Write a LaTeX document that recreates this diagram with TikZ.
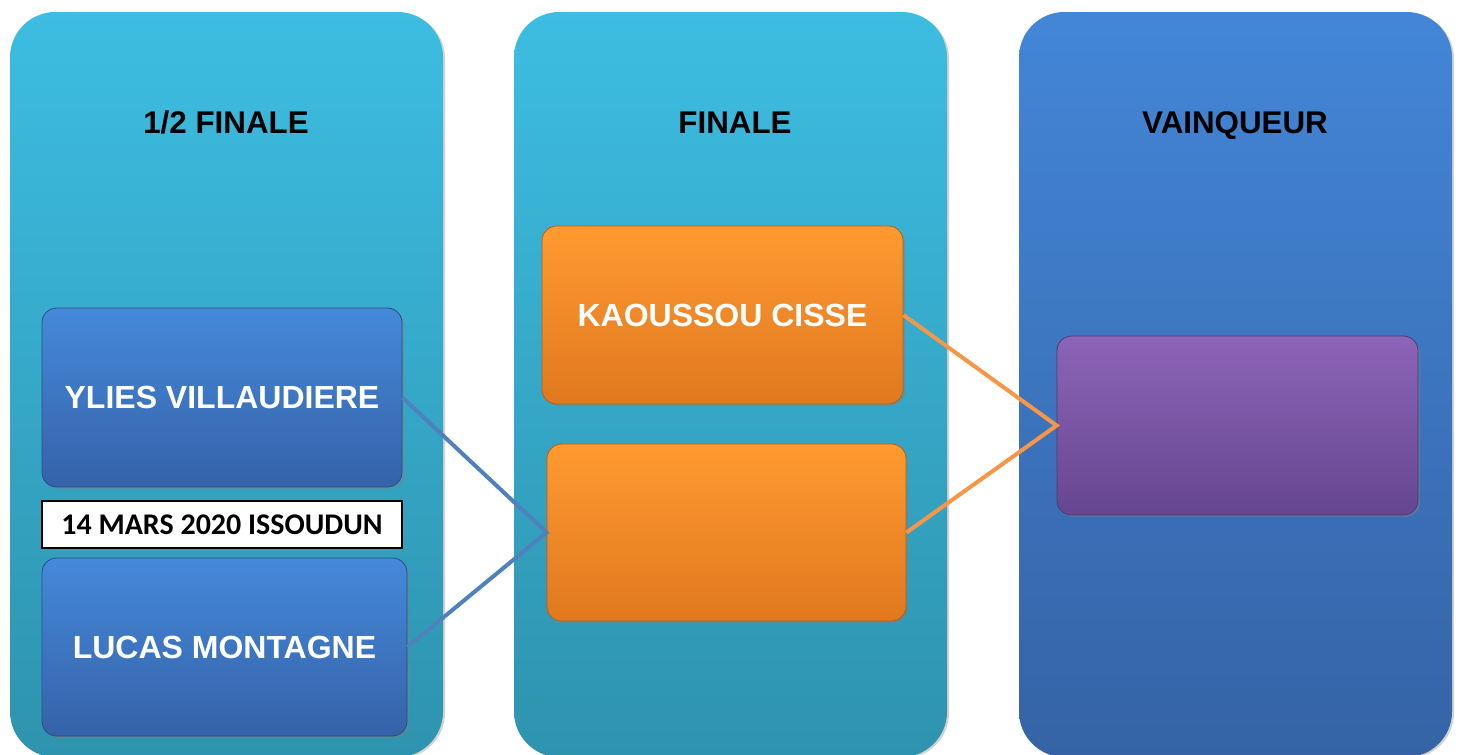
\documentclass[tikz,border=0pt]{standalone}
\usepackage{fontspec}
\setmainfont{Liberation Sans}
\newfontfamily\datefont{Carlito}
\usetikzlibrary{shadows}
\definecolor{colTop}{HTML}{3DBDE2}
\definecolor{colBot}{HTML}{2E93AE}
\definecolor{winTop}{HTML}{4386D7}
\definecolor{winBot}{HTML}{3563A6}
\definecolor{bluTop}{HTML}{4589DA}
\definecolor{bluBot}{HTML}{3562A8}
\definecolor{orTop}{HTML}{FF9A30}
\definecolor{orBot}{HTML}{E0781F}
\definecolor{puTop}{HTML}{8C64B8}
\definecolor{puBot}{HTML}{664690}
\definecolor{lineBlue}{HTML}{4F81BD}
\definecolor{lineOrange}{HTML}{F79646}
\tikzset{
  column/.style={rounded corners=34pt, minimum width=324.75pt, minimum height=558.75pt, inner sep=0pt,
    drop shadow={shadow xshift=1.5pt, shadow yshift=-1pt, opacity=0.35}},
  roundbox/.style={rounded corners=11pt, inner sep=0pt, text=white, font=\bfseries\fontsize{24}{28}\selectfont,
    drop shadow={shadow xshift=1.5pt, shadow yshift=-1.5pt, opacity=0.45}},
  bluebox/.style={roundbox, top color=bluTop, bottom color=bluBot, draw=bluBot!80!black, line width=0.6pt},
  orangebox/.style={roundbox, top color=orTop, bottom color=orBot, draw=orBot!80!black, line width=0.6pt},
  purplebox/.style={roundbox, top color=puTop, bottom color=puBot, draw=puBot!80!black, line width=0.6pt},
  title/.style={font=\bfseries\fontsize{23.5}{28}\selectfont, text=black, anchor=base, inner sep=0pt},
  datebox/.style={draw=black, line width=0.8pt, fill=white, inner sep=0pt, font=\datefont\bfseries\fontsize{22.5}{26}\selectfont},
  link/.style={line width=3pt}
}
\begin{document}
\begin{tikzpicture}[x=0.75pt, y=-0.75pt]
\useasboundingbox (0,0) rectangle (1459,754);
\clip (0,0) rectangle (1459,754);
\fill[white] (0,0) rectangle (1459,754);
% columns
\node[column, top color=colTop, bottom color=colBot] (c1) at (226.5,384.5) {};
\node[column, top color=colTop, bottom color=colBot] (c2) at (730.5,384.5) {};
\node[column, top color=winTop, bottom color=winBot] (c3) at (1235.5,384.5) {};
% titles
\node[title] (t1) at (226,133) {1/2 FINALE};
\node[title] (t2) at (735,133) {FINALE};
\node[title] (t3) at (1235,133) {VAINQUEUR};
% boxes
\node[bluebox, minimum width=270pt, minimum height=134.25pt] (ylies) at (222,397.5) {YLIES VILLAUDIERE};
\node[datebox, minimum width=270pt, minimum height=35.25pt] (date) at (222,524.5) {\raisebox{-3pt}{14 MARS 2020 ISSOUDUN}};
\node[bluebox, minimum width=273.75pt, minimum height=133.5pt] (lucas) at (224.5,647) {LUCAS MONTAGNE};
\node[orangebox, minimum width=270.75pt, minimum height=133.5pt] (kaou) at (722.5,315) {KAOUSSOU CISSE};
\node[orangebox, minimum width=269.25pt, minimum height=132.75pt] (fin2) at (726.5,532.5) {};
\node[purplebox, minimum width=270.75pt, minimum height=134.25pt] (win) at (1237.5,425.5) {};
% connectors
\draw[link, lineBlue] (ylies.east) -- (fin2.west) -- (lucas.east);
\draw[link, lineOrange] (kaou.east) -- (win.west) -- (fin2.east);
\end{tikzpicture}
\end{document}
